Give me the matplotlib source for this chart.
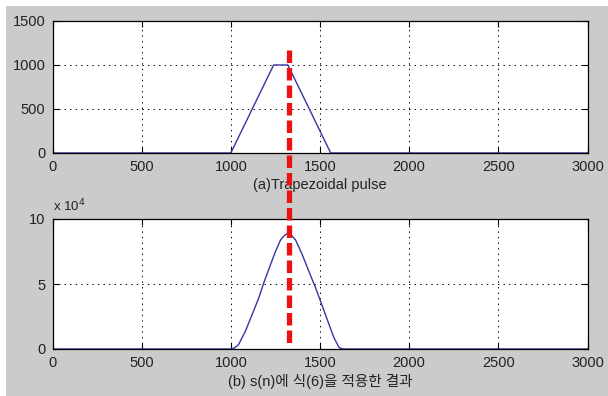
import matplotlib
matplotlib.use("Agg")
import matplotlib.pyplot as plt
from matplotlib.patches import Rectangle
from matplotlib.lines import Line2D
from matplotlib.ticker import FuncFormatter
import matplotlib.transforms as mtransforms

plt.rcParams['font.family'] = ['Liberation Sans', 'Noto Sans CJK KR', 'DejaVu Sans']
plt.rcParams['lines.scale_dashes'] = False

# (a) trapezoidal pulse
pulse_n = [0, 1000, 1240, 1320, 1560, 3000]
pulse_v = [0, 0, 1000, 1000, 0, 0]

# (b) result after eq.(6)
res_n = [0, 1000, 1020, 1043, 1081, 1119, 1156, 1184, 1222, 1250, 1279,
         1300, 1316, 1325, 1340, 1363, 1401, 1438, 1476, 1514, 1551,
         1579, 1607, 1626, 3000]
res_v = [0, 0, 800, 3300, 13500, 26300, 39100, 50600, 64700, 74900, 83900,
         87300, 88700, 88600, 87400, 83900, 72400, 59600, 46800, 32700,
         18700, 8400, 1200, 0, 0]

marker_n = 1327  # red dashed marker position

xticks = [0, 500, 1000, 1500, 2000, 2500, 3000]
title_a = '(a)Trapezoidal pulse'
title_b = '(b) s(n)에 식(6)을 적용한 결과'

W, H = 608, 396
fig = plt.figure(figsize=(W / 100, H / 100), dpi=100, facecolor='white')

# matlab-like grey figure area
fig.patches.append(Rectangle((6 / W, 0), 1 - 6 / W, 1 - 6 / H,
                             transform=fig.transFigure, facecolor='#cbcbcb',
                             edgecolor='none', zorder=-10))

line_col = '#3535a5'


def style_axes(ax, ymax, yticks):
    ax.set_xlim(0, 3000)
    ax.set_ylim(0, ymax)
    ax.set_xticks(xticks)
    ax.set_yticks(yticks)
    ax.tick_params(direction='in', length=4, width=0.8, labelsize=10.5,
                   top=True, right=True, pad=5, colors='black',
                   labelcolor='#222222')
    ax.grid(True, color='black', linestyle=(0, (1, 3)), linewidth=0.7)
    for s in ax.spines.values():
        s.set_linewidth(0.9)
        s.set_color('black')
    ax.set_facecolor('white')


ax1 = fig.add_axes([52.5 / W, (H - 153) / H, 535 / W, 132 / H])
ax1.plot(pulse_n, pulse_v, color=line_col, lw=1.0)
style_axes(ax1, 1500, [0, 500, 1000, 1500])
ax1.set_xlabel(title_a, fontsize=10.5, labelpad=3, color='#222222')

ax2 = fig.add_axes([52.5 / W, (H - 349) / H, 535 / W, 130 / H])
ax2.plot(res_n, res_v, color=line_col, lw=1.0)
style_axes(ax2, 100000, [0, 50000, 100000])
ax2.yaxis.set_major_formatter(FuncFormatter(lambda v, p: f'{v / 1e4:g}'))
ax2.set_xlabel(title_b, fontsize=10.5, labelpad=3, color='#222222')
fig.text(53 / W, (H - 211) / H, r'x 10$^{4}$', fontsize=9.5,
         color='#222222', ha='left', va='baseline')

# red dashed line across both panels
tr = mtransforms.blended_transform_factory(ax1.transData, fig.transFigure)
red = Line2D([marker_n, marker_n], [(H - 50) / H, (H - 343) / H],
             transform=tr, color='#ee1111', lw=3.8, clip_on=False,
             solid_capstyle='butt', dash_capstyle='butt', zorder=20)
red.set_dashes((9, 3.6))
fig.lines.append(red)

fig.savefig('out.png', dpi=100, facecolor=fig.get_facecolor())
